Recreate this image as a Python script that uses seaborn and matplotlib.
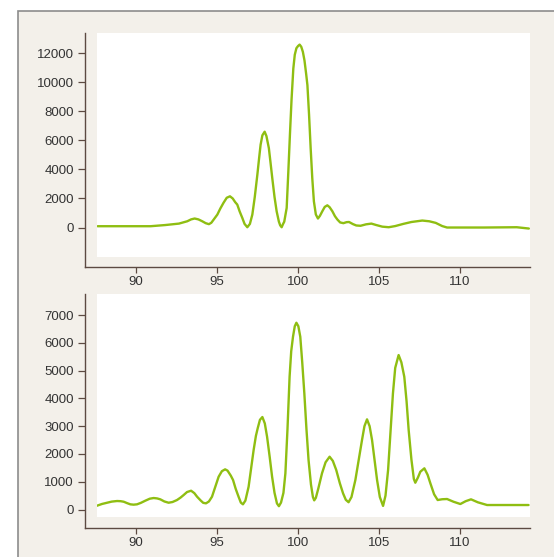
import matplotlib
matplotlib.use("Agg")
import matplotlib.pyplot as plt
from matplotlib.patches import Rectangle
import seaborn as sns
import pandas as pd

# ---- data ----
top_x = [87.63, 90.9, 91.8, 92.65, 93.16, 93.4, 93.62, 93.85, 94.09, 94.3, 94.5, 94.65,
         95.02, 95.2, 95.4, 95.6, 95.8, 95.97, 96.12, 96.25, 96.4, 96.56, 96.7, 96.87,
         97.03, 97.18, 97.33, 97.49, 97.6, 97.69, 97.8, 97.94, 98.05, 98.2, 98.3, 98.41,
         98.55, 98.68, 98.82, 98.9, 98.99, 99.08, 99.15, 99.3, 99.4, 99.5, 99.6, 99.71,
         99.8, 99.9, 100.0, 100.1, 100.2, 100.3, 100.4, 100.5, 100.58, 100.68, 100.78,
         100.88, 100.98, 101.1, 101.23, 101.35, 101.5, 101.65, 101.81, 101.95, 102.12,
         102.28, 102.43, 102.6, 102.8, 103.0, 103.15, 103.4, 103.6, 103.86, 104.2,
         104.53, 104.8, 105.2, 105.6, 106.0, 106.5, 107.0, 107.67, 108.1, 108.5, 108.9,
         109.2, 111.5, 113.5, 114.25]
top_y = [90, 90, 170, 270, 430, 560, 620, 560, 430, 300, 230, 330,
         890, 1300, 1700, 2050, 2150, 2000, 1750, 1580, 1100, 665, 250, 20,
         250, 890, 2100, 3640, 4800, 5700, 6350, 6600, 6300, 5470, 4500, 3410,
         2100, 1120, 400, 150, 20, 250, 400, 1350, 3800, 6380, 8800, 10950,
         11900, 12350, 12500, 12600, 12450, 12100, 11500, 10600, 9810, 7800, 5470,
         3400, 1800, 900, 620, 800, 1120, 1420, 1530, 1400, 1120,
         780, 550, 350, 300, 370, 380, 230, 140, 120, 220,
         270, 180, 60, 20, 100, 250, 380, 480, 430, 320, 100,
         0, 0, 20, -70]

bot_x = [87.59, 87.9, 88.21, 88.5, 88.83, 89.05, 89.24, 89.45, 89.65, 89.85, 90.06,
         90.3, 90.57, 90.85, 91.09, 91.3, 91.5, 91.75, 92.01, 92.25, 92.53, 92.75,
         92.94, 93.15, 93.4, 93.6, 93.77, 94.0, 94.15, 94.32, 94.5, 94.69, 94.9,
         95.1, 95.3, 95.5, 95.65, 95.85, 95.99, 96.15, 96.33, 96.47, 96.6, 96.75,
         96.95, 97.1, 97.26, 97.4, 97.51, 97.65, 97.8, 97.95, 98.09, 98.25, 98.4,
         98.55, 98.7, 98.82, 98.95, 99.1, 99.22, 99.35, 99.48, 99.58, 99.69, 99.8,
         99.9, 100.02, 100.14, 100.26, 100.39, 100.52, 100.65, 100.8, 100.92, 101.0,
         101.1, 101.25, 101.48, 101.7, 101.95, 102.15, 102.36, 102.58, 102.78,
         102.95, 103.12, 103.3, 103.54, 103.75, 103.95, 104.1, 104.26, 104.42,
         104.57, 104.72, 104.88, 105.05, 105.25, 105.4, 105.56, 105.7, 105.86,
         106.0, 106.21, 106.38, 106.56, 106.7, 106.83, 107.0, 107.15, 107.24,
         107.4, 107.55, 107.8, 108.0, 108.17, 108.4, 108.62, 108.9, 109.2, 109.6,
         110.02, 110.35, 110.68, 111.1, 111.67, 114.23]
bot_y = [137, 200, 245, 285, 306, 300, 281, 230, 187, 175, 187,
         240, 317, 390, 414, 400, 367, 290, 245, 270, 342, 430,
         522, 630, 677, 590, 461, 320, 240, 223, 290, 461, 830,
         1181, 1380, 1447, 1400, 1220, 1062, 750, 461, 250, 187, 320,
         821, 1450, 2142, 2650, 2923, 3230, 3330, 3100, 2620, 1900, 1181,
         600, 220, 120, 250, 600, 1300, 2900, 4781, 5700, 6221, 6600,
         6725, 6600, 6221, 5300, 4183, 2900, 1782, 900, 450, 330,
         420, 750, 1303, 1700, 1901, 1750, 1422, 950, 583,
         350, 263, 450, 1062, 1800, 2502, 3000, 3247, 3000,
         2502, 1800, 1062, 450, 130, 500, 1422, 2700, 4183,
         5100, 5562, 5300, 4781, 3900, 2862, 1800, 1100, 965,
         1150, 1361, 1483, 1250, 943, 550, 342, 370, 378, 280,
         198, 300, 367, 260, 162, 162]

top_yticks = [0, 2000, 4000, 6000, 8000, 10000, 12000]
bot_yticks = [0, 1000, 2000, 3000, 4000, 5000, 6000, 7000]
xticks = [90, 95, 100, 105, 110]

LINE = "#8fbe12"
SPINE = "#5c4a42"
TEXT = "#333333"

sns.set_theme(style="ticks")
plt.rcParams["font.family"] = ["Liberation Sans", "DejaVu Sans"]

W, H = 554, 557
fig = plt.figure(figsize=(W / 100, H / 100), dpi=100, facecolor="white")
bg = Rectangle((18 / W, -0.1), 1.0, 1 - 11 / H + 0.1,
               transform=fig.transFigure, facecolor="#f3f0ea",
               edgecolor="#8c8c8c", lw=1.2, zorder=-10)
fig.patches.append(bg)

ax1 = fig.add_axes([97.3 / W, 1 - 256.7 / H, (530 - 97.3) / W, (256.7 - 32.7) / H])
ax2 = fig.add_axes([97.3 / W, 1 - 517.3 / H, (530 - 97.3) / W, (517.3 - 294) / H])

df_top = pd.DataFrame({"x": top_x, "y": top_y})
df_bot = pd.DataFrame({"x": bot_x, "y": bot_y})

sns.lineplot(data=df_top, x="x", y="y", ax=ax1, color=LINE, lw=1.7, estimator=None)
sns.lineplot(data=df_bot, x="x", y="y", ax=ax2, color=LINE, lw=1.7, estimator=None)
for ax in (ax1, ax2):
    for ln in ax.get_lines():
        ln.set_solid_joinstyle("round")
        ln.set_solid_capstyle("round")

xl = (87.61, 114.32)
setups = [(ax1, (-2010, 13420), top_yticks), (ax2, (-280, 7760), bot_yticks)]
for ax, yl, yt in setups:
    ax.set_facecolor("white")
    ax.set_xlim(*xl)
    ax.set_ylim(*yl)
    ax.set_xticks(xticks)
    ax.set_yticks(yt)
    ax.set_xlabel("")
    ax.set_ylabel("")
    for s in ["top", "right"]:
        ax.spines[s].set_visible(False)
    ax.spines["left"].set_position(("outward", 8.86))
    ax.spines["bottom"].set_position(("outward", 7.6))
    for s in ["left", "bottom"]:
        ax.spines[s].set_color(SPINE)
        ax.spines[s].set_linewidth(1.0)
    # extend spines to meet at the corner
    ypp = (yl[1] - yl[0]) / ax.get_position().height / H
    xpp = (xl[1] - xl[0]) / ax.get_position().width / W
    ax.spines["left"].set_bounds(yl[0] - 10.6 * ypp, yl[1])
    ax.spines["bottom"].set_bounds(xl[0] - 12.3 * xpp, xl[1])
    ax.tick_params(axis="both", colors=SPINE, labelcolor=TEXT, labelsize=9.5,
                   width=0.9, length=5, direction="out")
    ax.tick_params(axis="y", pad=3)
    ax.tick_params(axis="x", pad=2, length=4.5)
    ax.grid(False)

fig.savefig("out.png", dpi=100, facecolor=fig.get_facecolor())
